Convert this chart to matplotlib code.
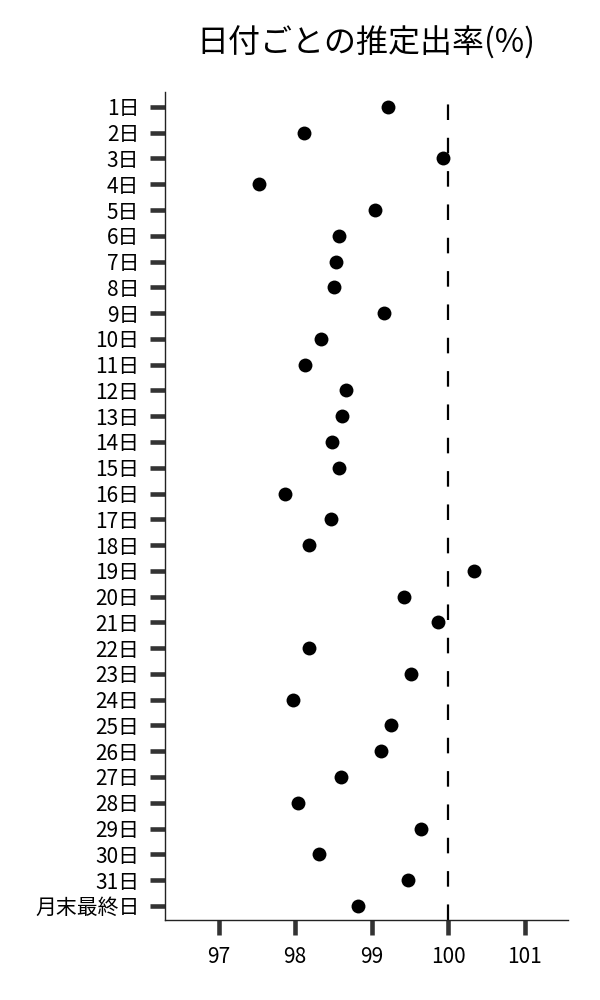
import matplotlib
matplotlib.use("Agg")
import matplotlib.pyplot as plt

plt.rcParams['font.family'] = ['Noto Sans CJK JP', 'DejaVu Sans']

categories = [f"{i}日" for i in range(1, 32)] + ["月末最終日"]
values = [99.21, 98.12, 99.93, 97.53, 99.04, 98.57, 98.53, 98.51, 99.16, 98.34,
          98.13, 98.66, 98.61, 98.48, 98.57, 97.87, 98.47, 98.18, 100.34, 99.42,
          99.87, 98.18, 99.51, 97.97, 99.26, 99.12, 98.60, 98.04, 99.64, 98.31,
          99.48, 98.82]
xticks = [97, 98, 99, 100, 101]
reference = 100
title = "日付ごとの推定出率(%)"

fig = plt.figure(figsize=(6, 10), dpi=100)
ax = fig.add_axes([0.275, 0.08, 0.672, 0.828])

ypos = list(range(len(categories)))
ax.scatter(values, ypos, s=100, color='black', zorder=3, linewidths=0)
ax.axvline(reference, ymin=0, ymax=0.985, color='black', linestyle=(0, (7, 8)), linewidth=1.6, zorder=2)

ax.set_yticks(ypos)
ax.set_yticklabels(categories, fontsize=15)
ax.set_xticks(xticks)
ax.set_xticklabels([str(t) for t in xticks], fontsize=15)
ax.set_xlim(96.3, 101.57)
ax.set_ylim(len(categories) - 1 + 0.55, -0.58)

for s in ['top', 'right']:
    ax.spines[s].set_visible(False)
for s in ['left', 'bottom']:
    ax.spines[s].set_linewidth(1.0)
    ax.spines[s].set_color('#222222')

ax.tick_params(axis='both', direction='out', length=10.5, width=3.3, color='#333333', pad=8)
ax.tick_params(axis='x', pad=8)

fig.text(0.61, 0.957, title, ha='center', va='center', fontsize=23)

fig.savefig("out.png", dpi=100)
